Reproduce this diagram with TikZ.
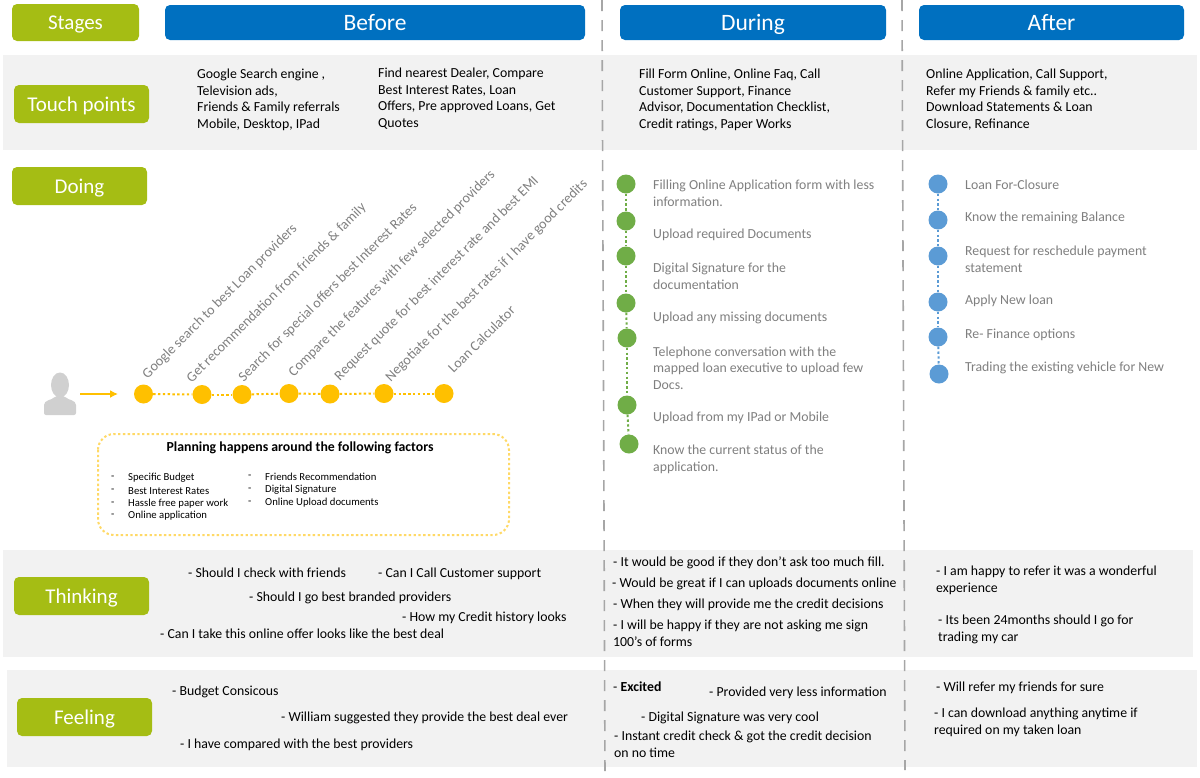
\documentclass[tikz,border=0pt]{standalone}
\usepackage{fontspec}
\usetikzlibrary{arrows.meta}
\setmainfont{Carlito}
\definecolor{lime}{HTML}{A5BD14}
\definecolor{headblue}{HTML}{0070C0}
\definecolor{band}{HTML}{F2F2F2}
\definecolor{amber}{HTML}{FFC000}
\definecolor{softamber}{HTML}{FFD966}
\definecolor{leaf}{HTML}{70AD47}
\definecolor{sky}{HTML}{5B9BD5}
\definecolor{greytxt}{HTML}{7F7F7F}
\definecolor{divider}{HTML}{A6A6A6}
\definecolor{persongrey}{HTML}{D0D0D0}
\tikzset{
  x=1pt,y=-1pt,
  stagebox/.style={fill=lime,rounded corners=5pt,text=white,font=\fontsize{21}{24}\selectfont,inner sep=0pt,anchor=center,minimum width=135pt,minimum height=38pt,text height=17pt,text depth=3pt},
  phasebox/.style={fill=headblue,rounded corners=5pt,text=white,font=\fontsize{23.5}{27}\selectfont,inner sep=0pt,anchor=center,minimum height=35pt,text height=18pt,text depth=3pt},
  body/.style={anchor=north west,inner sep=0pt,align=left,text=black,yshift=-3pt,font=\fontsize{13.8}{16.6}\selectfont},
  say/.style={anchor=west,inner sep=0pt,align=left,text=black,yshift=-1pt,font=\fontsize{13.8}{16.6}\selectfont},
  stepnote/.style={anchor=west,inner sep=0pt,align=left,text=greytxt,yshift=-1pt,font=\fontsize{13.8}{16.6}\selectfont},
  slant/.style={anchor=west,inner sep=0pt,text=greytxt,rotate=45,xshift=1pt,yshift=1pt,font=\fontsize{14.1}{16}\selectfont},
  small/.style={anchor=west,inner sep=0pt,text=black,yshift=-0.5pt,font=\fontsize{10.7}{12}\selectfont},
  ball/.style={circle,inner sep=0pt,minimum size=19pt},
  dotA/.style={ball,fill=amber},
  dotG/.style={ball,fill=leaf},
  dotB/.style={ball,fill=sky},
  chainA/.style={draw=amber,line width=2pt,dash pattern=on 2.4pt off 2.4pt},
  chainG/.style={draw=leaf,line width=2pt,dash pattern=on 2.4pt off 2.4pt},
  chainB/.style={draw=sky,line width=2pt,dash pattern=on 2.4pt off 2.4pt},
  split/.style={draw=divider,line width=1.6pt,dash pattern=on 11pt off 9pt},
}
\begin{document}
\begin{tikzpicture}
\useasboundingbox (0,0) rectangle (1200,777);
% bands
\fill[band] (3,55) rectangle (1197,150);
\fill[band] (3,550) rectangle (1193,657);
\fill[band] (7,670) rectangle (1197,767);
% dividers
\coordinate (d1a) at (602,0); \coordinate (d1b) at (605,777);
\coordinate (d2a) at (902,0); \coordinate (d2b) at (905,770);
\draw[split] (d1a) -- (d1b);
\draw[split] (d2a) -- (d2b);
% headers
\node[stagebox,minimum width=127pt,minimum height=37pt] (stages) at (75.5,22.5) {Stages};
\node[phasebox,minimum width=420pt] (before) at (375,22.5) {Before};
\node[phasebox,minimum width=266pt] (during) at (753,22.5) {During};
\node[phasebox,minimum width=265pt] (after) at (1051.5,22.5) {After};
\node[stagebox] (touch) at (81.5,104) {Touch points};
\node[stagebox] (doing) at (79.5,186) {Doing};
\node[stagebox] (thinking) at (81.5,596) {Thinking};
\node[stagebox] (feeling) at (84.5,717) {Feeling};
% touch points
\node[body] (tp1) at (197,66) {Google Search engine ,\\Television ads,\\Friends \& Family referrals\\Mobile, Desktop, IPad};
\node[body] (tp2) at (378,65) {Find nearest Dealer, Compare\\Best Interest Rates, Loan\\Offers, Pre approved Loans, Get\\Quotes};
\node[body] (tp3) at (639,66) {Fill Form Online, Online Faq, Call\\Customer Support, Finance\\Advisor, Documentation Checklist,\\Credit ratings, Paper Works};
\node[body] (tp4) at (926,66) {Online Application, Call Support,\\Refer my Friends \& family etc..\\Download Statements \& Loan\\Closure, Refinance};
% person
\fill[persongrey] (60,385) ellipse (9pt and 12.5pt);
\fill[persongrey,rounded corners=2pt] (44,415) -- (44,407) .. controls (44,400) and (52,400) .. (55,396) -- (65,396) .. controls (68,400) and (76,400) .. (76,407) -- (76,415) -- cycle;
\coordinate (arrowtail) at (80,394); \coordinate (arrowtip) at (118,394);
\draw[amber,line width=1.5pt,-{Latex[length=8pt,width=8pt]}] (arrowtail) -- (arrowtip);
% amber chain
\node[dotA] (a1) at (143.5,394) {};
\node[dotA] (a2) at (202,394.5) {};
\node[dotA] (a3) at (242,394.5) {};
\node[dotA] (a4) at (289,393.5) {};
\node[dotA] (a5) at (330,394) {};
\node[dotA] (a6) at (384,393.5) {};
\node[dotA] (a7) at (444,393.5) {};
\draw[chainA] (a1)--(a2); \draw[chainA] (a2)--(a3); \draw[chainA] (a3)--(a4); \draw[chainA] (a4)--(a5); \draw[chainA] (a5)--(a6); \draw[chainA] (a6)--(a7);
\node[slant] (s1) at (145,378) {Google search to best Loan providers};
\node[slant] (s2) at (189,382) {Get recommendation from friends \& family};
\node[slant] (s3) at (241,381) {Search for special offers best Interest Rates};
\node[slant] (s4) at (291,376) {Compare the features with few selected providers};
\node[slant] (s5) at (337,380) {Request quote for best interest rate and best EMI};
\node[slant] (s6) at (388,381) {Negotiate for the best rates if I have good credits};
\node[slant] (s7) at (450,372) {Loan Calculator};
% planning box
\draw[draw=softamber,line width=2pt,dash pattern=on 2.4pt off 2.4pt,rounded corners=16pt] (98,434) rectangle (509,535);
\node[inner sep=0pt,font=\fontsize{13.8}{16}\selectfont\bfseries] (plan) at (300,448) {Planning happens around the following factors};
\node[small] (p1d) at (111,477) {-}; \node[small] (p1) at (128,477) {Specific Budget};
\node[small] (p2d) at (111,490.5) {-}; \node[small] (p2) at (128,490.5) {Best Interest Rates};
\node[small] (p3d) at (111,503) {-}; \node[small] (p3) at (128,503) {Hassle free paper work};
\node[small] (p4d) at (111,515.5) {-}; \node[small] (p4) at (128,515.5) {Online application};
\node[small] (q1d) at (248,476) {-}; \node[small] (q1) at (265,476) {Friends Recommendation};
\node[small] (q2d) at (248,489.5) {-}; \node[small] (q2) at (265,489.5) {Digital Signature};
\node[small] (q3d) at (248,502) {-}; \node[small] (q3) at (265,502) {Online Upload documents};
% during chain
\node[dotG] (g1) at (626,184) {};
\node[dotG] (g2) at (626,221) {};
\node[dotG] (g3) at (626,256) {};
\node[dotG] (g4) at (626,303) {};
\node[dotG] (g5) at (627,338) {};
\node[dotG] (g6) at (627,405) {};
\node[dotG] (g7) at (629,444) {};
\draw[chainG] (g1)--(g2); \draw[chainG] (g2)--(g3); \draw[chainG] (g3)--(g4); \draw[chainG] (g4)--(g5); \draw[chainG] (g5)--(g6); \draw[chainG] (g6)--(g7);
\node[stepnote] (n1) at (653,192.5) {Filling Online Application form with less\\information.};
\node[stepnote] (n2) at (653,234) {Upload required Documents};
\node[stepnote] (n3) at (653,275.5) {Digital Signature for the\\documentation};
\node[stepnote] (n4) at (653,317) {Upload any missing documents};
\node[stepnote] (n5) at (653,367) {Telephone conversation with the\\mapped loan executive to upload few\\Docs.};
\node[stepnote] (n6) at (653,417) {Upload from my IPad or Mobile};
\node[stepnote] (n7) at (653,458.5) {Know the current status of the\\application.};
% after chain
\node[dotB] (b1) at (938,184) {};
\node[dotB] (b2) at (938,220) {};
\node[dotB] (b3) at (938,256) {};
\node[dotB] (b4) at (938,302) {};
\node[dotB] (b5) at (938,337) {};
\node[dotB] (b6) at (939,374) {};
\draw[chainB] (b1)--(b2); \draw[chainB] (b2)--(b3); \draw[chainB] (b3)--(b4); \draw[chainB] (b4)--(b5); \draw[chainB] (b5)--(b6);
\node[stepnote] (m1) at (965,184) {Loan For-Closure};
\node[stepnote] (m2) at (965,217) {Know the remaining Balance};
\node[stepnote] (m3) at (965,258.5) {Request for reschedule payment\\statement};
\node[stepnote] (m4) at (965,300) {Apply New loan};
\node[stepnote] (m5) at (965,334) {Re- Finance options};
\node[stepnote] (m6) at (965,367) {Trading the existing vehicle for New};
% thinking
\node[say] (t1) at (188,572) {- Should I check with friends};
\node[say] (t2) at (378,573) {- Can I Call Customer support};
\node[say] (t3) at (249,597) {- Should I go best branded providers};
\node[say] (t4) at (402,617) {- How my Credit history looks};
\node[say] (t5) at (160,633) {- Can I take this online offer looks like the best deal};
\node[say] (t6) at (613,562) {- It would be good if they don’t ask too much fill.};
\node[say] (t7) at (612,583) {- Would be great if I can uploads documents online};
\node[say] (t8) at (613,604) {- When they will provide me the credit decisions};
\node[say] (t9) at (613,632.5) {- I will be happy if they are not asking me sign\\100’s of forms};
\node[say] (t10) at (936,579.5) {- I am happy to refer it was a wonderful\\experience};
\node[say] (t11) at (938,628.5) {- Its been 24months should I go for\\trading my car};
% feeling
\node[say] (f1) at (172,691) {- Budget Consicous};
\node[say] (f2) at (281,717) {- William suggested they provide the best deal ever};
\node[say] (f3) at (180,744) {- I have compared with the best providers};
\node[say] (f4) at (613,686) {- \textbf{Excited}};
\node[say] (f5) at (709,692) {- Provided very less information};
\node[say] (f6) at (641,717) {- Digital Signature was very cool};
\node[say] (f7) at (614,743.5) {- Instant credit check \& got the credit decision\\on no time};
\node[say] (f8) at (936,687) {- Will refer my friends for sure};
\node[say] (f9) at (934,721.5) {- I can download anything anytime if\\required on my taken loan};
\end{tikzpicture}
\end{document}
